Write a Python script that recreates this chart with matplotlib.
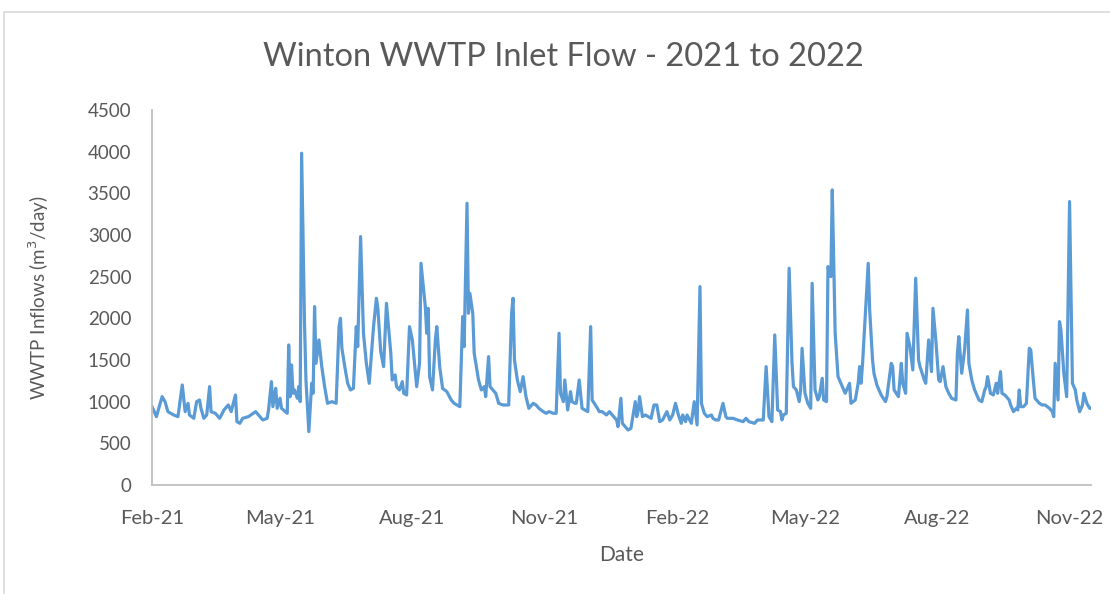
import matplotlib
matplotlib.use('Agg')
import matplotlib.pyplot as plt
import matplotlib.dates as mdates
from matplotlib.patches import Rectangle
import pandas as pd

# daily inlet flow, sampled at the days where the trace changes direction
start_date = '2021-02-01'
days = [
    0, 3, 7, 9, 11, 15, 18, 21, 23, 25, 26, 29, 31, 33, 34, 36, 38, 40, 41, 44,
    47, 50, 53, 55, 58, 59, 61, 63, 67, 72, 75, 77, 80, 81, 83, 84, 86, 87, 89, 90,
    94, 95, 96, 97, 98, 99, 101, 102, 103, 104, 106, 107, 109, 111, 112, 113, 114, 116, 118, 120,
    122, 125, 128, 130, 131, 132, 134, 136, 138, 140, 142, 143, 145, 147, 149, 151, 154, 156, 157, 159,
    161, 163, 166, 167, 169, 170, 172, 174, 175, 177, 179, 181, 184, 186, 187, 190, 191, 192, 193, 195,
    197, 198, 200, 202, 205, 208, 210, 214, 216, 217, 219, 220, 221, 223, 224, 227, 229, 231, 232, 234,
    235, 237, 239, 241, 244, 246, 248, 250, 251, 252, 254, 256, 258, 260, 262, 265, 267, 269, 272, 274,
    276, 279, 281, 283, 284, 286, 287, 289, 291, 292, 294, 295, 297, 299, 301, 303, 305, 306, 309, 311,
    313, 316, 318, 320, 323, 324, 326, 327, 328, 331, 333, 336, 337, 338, 339, 341, 343, 345, 347, 349,
    351, 353, 355, 358, 360, 362, 364, 366, 368, 369, 371, 372, 375, 377, 379, 381, 382, 384, 386, 389,
    390, 392, 394, 397, 399, 400, 404, 407, 411, 413, 415, 419, 421, 425, 427, 429, 431, 433, 435, 437,
    438, 439, 441, 443, 445, 446, 448, 450, 451, 452, 454, 456, 458, 459, 461, 463, 464, 466, 467, 469,
    470, 472, 473, 475, 477, 480, 482, 485, 486, 489, 491, 492, 493, 494, 496, 498, 499, 501, 502, 504,
    507, 510, 511, 514, 515, 516, 519, 521, 522, 524, 525, 527, 529, 531, 533, 534, 537, 538, 540, 542,
    543, 545, 547, 548, 550, 552, 554, 556, 559, 560, 561, 563, 565, 567, 568, 570, 572, 575, 577, 579,
    580, 581, 583, 585, 587, 588, 590, 591, 593, 596, 597, 599, 601, 602, 603, 604, 606, 608, 610, 611,
    613, 614, 617, 619, 621, 624, 626, 627, 628, 630, 631, 632, 634, 636, 638, 640, 642, 643, 645, 647,
    648, 650, 652, 653,
]
flows = [
    940, 820, 1060, 1000, 880, 840, 820, 1200, 880, 980, 840, 800, 1000, 1020, 920, 800, 840, 1180, 880, 860,
    800, 900, 960, 880, 1080, 760, 740, 800, 820, 880, 820, 780, 800, 900, 1240, 940, 1160, 920, 1040, 920,
    860, 1680, 1060, 1440, 1100, 1140, 1040, 1180, 1000, 3980, 1940, 1260, 640, 1220, 1100, 2140, 1460, 1740, 1420, 1180,
    980, 1000, 980, 1900, 2000, 1640, 1420, 1220, 1140, 1160, 1900, 1660, 2980, 1820, 1460, 1220, 1900, 2240, 2120, 1600,
    1420, 2180, 1580, 1260, 1320, 1180, 1140, 1240, 1100, 1080, 1900, 1740, 1180, 1460, 2660, 2140, 1820, 2120, 1300, 1140,
    1740, 1900, 1420, 1160, 1120, 1020, 980, 940, 2020, 1660, 3380, 2060, 2300, 2060, 1580, 1260, 1140, 1180, 1060, 1540,
    1180, 1140, 1100, 980, 960, 960, 960, 2060, 2240, 1500, 1260, 1120, 1300, 1060, 920, 980, 960, 920, 880, 860,
    880, 860, 860, 1820, 1100, 1000, 1260, 900, 1120, 1000, 980, 980, 1260, 920, 900, 880, 1900, 1020, 940, 880,
    880, 840, 880, 840, 780, 700, 1040, 740, 720, 660, 680, 1000, 820, 880, 1060, 820, 840, 820, 800, 960,
    960, 760, 780, 880, 780, 840, 980, 840, 740, 840, 760, 840, 740, 1000, 720, 2380, 980, 860, 820, 840,
    800, 780, 780, 980, 820, 800, 800, 780, 760, 800, 760, 740, 780, 780, 1420, 820, 760, 1800, 900, 880,
    780, 840, 860, 2600, 1460, 1180, 1140, 1000, 1140, 1640, 1100, 980, 920, 2420, 1140, 1020, 1060, 1280, 1020, 1000,
    2620, 2500, 3540, 1820, 1300, 1180, 1100, 1220, 980, 1020, 1220, 1420, 1220, 1440, 2060, 2660, 2100, 1500, 1340, 1200,
    1080, 1000, 1060, 1460, 1420, 1140, 1060, 1460, 1220, 1100, 1820, 1660, 1380, 2480, 1500, 1420, 1260, 1220, 1740, 1360,
    2120, 1740, 1260, 1240, 1420, 1180, 1100, 1040, 1020, 1580, 1780, 1340, 1620, 2100, 1460, 1260, 1140, 1020, 1000, 1140,
    1180, 1300, 1100, 1080, 1220, 1100, 1360, 1100, 1080, 1020, 960, 880, 920, 900, 1140, 940, 940, 980, 1640, 1620,
    1220, 1040, 980, 960, 960, 920, 880, 820, 1460, 1020, 1960, 1860, 1340, 1060, 3400, 1220, 1140, 1020, 880, 960,
    1100, 980, 920, 920,
]
y_ticks = [0, 500, 1000, 1500, 2000, 2500, 3000, 3500, 4000, 4500]

dates = pd.Timestamp(start_date) + pd.to_timedelta(days, unit='D')

plt.rcParams['font.family'] = ['Lato', 'DejaVu Sans']
text_color = '#595959'

fig = plt.figure(figsize=(11.1, 5.94), dpi=100)
ax = fig.add_axes([0.137, 0.1835, 0.846, 0.6315])

ax.plot(dates, flows, color='#5B9BD5', linewidth=2.3, solid_joinstyle='round')

ax.set_xlim(dates[0], dates[-1])
ax.set_ylim(0, 4500)
ax.set_yticks(y_ticks)
ax.xaxis.set_major_locator(mdates.MonthLocator(bymonth=[2, 5, 8, 11]))
ax.xaxis.set_major_formatter(mdates.DateFormatter('%b-%y'))

for side in ['top', 'right']:
    ax.spines[side].set_visible(False)
for side in ['left', 'bottom']:
    ax.spines[side].set_color('#BFBFBF')
    ax.spines[side].set_linewidth(1.3)
ax.tick_params(length=0, colors=text_color)
ax.tick_params(axis='y', labelsize=13.5, pad=15)
ax.tick_params(axis='x', labelsize=14.5, pad=18)

fig.text(563 / 1110, 1 - 57 / 594, 'Winton WWTP Inlet Flow - 2021 to 2022',
         fontsize=23.5, color=text_color, ha='center', va='center')
ax.set_xlabel('Date', fontsize=15, color=text_color, labelpad=13)
ax.set_ylabel('WWTP Inflows (m$^3$/day)', fontsize=13.5, color=text_color, labelpad=26)

# chart area border
fig.patches.append(Rectangle((4 / 1110, -0.2), 1.2, 1.2 - 12 / 594, transform=fig.transFigure,
                             fill=False, edgecolor='#D9D9D9', linewidth=1.2))

fig.savefig('out.png', dpi=100)
plt.close()
